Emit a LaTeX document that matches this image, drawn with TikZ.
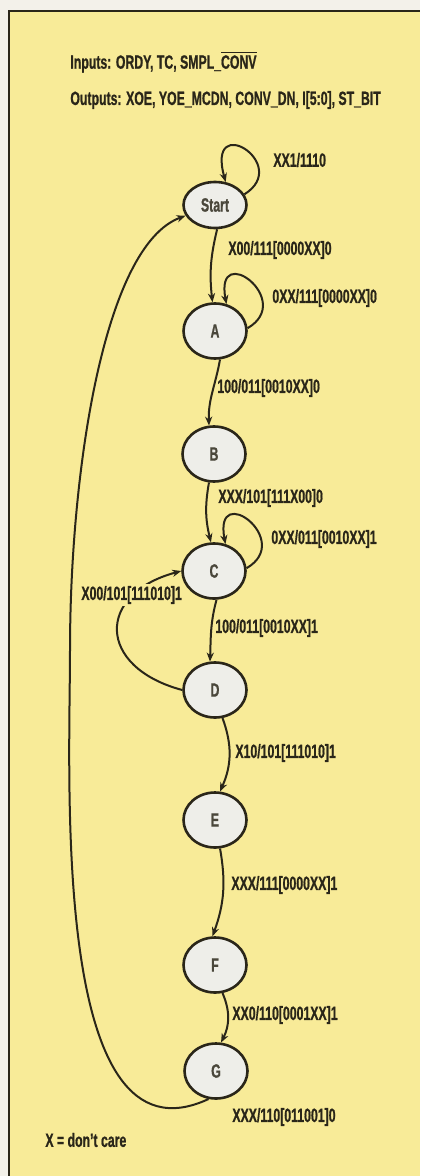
\documentclass[tikz,border=0pt]{standalone}
\usepackage{fontspec}
\setmainfont{Liberation Sans}[FakeStretch=0.64, BoldFeatures={FakeBold=0.8}]
\usetikzlibrary{arrows.meta,shapes.geometric}
\definecolor{paper}{HTML}{F3F1EA}
\definecolor{panel}{HTML}{F8EB98}
\definecolor{ink}{HTML}{2A2619}
\definecolor{bubble}{HTML}{EEEEE9}

\begin{document}
\begin{tikzpicture}[
  x=0.5pt, y=0.5pt,
  >={Stealth[length=4.5pt,width=3.6pt]},
  state/.style={ellipse, draw=ink, line width=1.3pt, fill=bubble, minimum width=31.5pt, minimum height=27.5pt, inner sep=0pt, font=\fontsize{9.6}{11}\selectfont\bfseries, text=ink!85},
  lbl/.style={anchor=west, inner sep=0pt, font=\fontsize{9.6}{11}\selectfont\bfseries, text=ink},
  trans/.style={draw=ink, ->, line width=1pt}
]
\path[use as bounding box, fill=paper] (0,0) rectangle (420,-1176);
\fill[panel] (9,-11) rectangle (420,-1176);
\draw[ink, line width=1.2pt] (9,-1176) -- (9,-11) -- (420,-11);

\node[lbl] (inputs) at (70,-62) {Inputs: ORDY, TC, SMPL\_$\overline{\hbox{CONV}}$};
\node[lbl] (outputs) at (70,-100) {Outputs: XOE, YOE\_MCDN, CONV\_DN, I[5:0], ST\_BIT};

\node[state, minimum height=23pt] (start) at (215,-205) {Start};
\node[state] (a) at (215,-331) {A};
\node[state] (b) at (214,-454) {B};
\node[state] (c) at (214,-571) {C};
\node[state] (d) at (215,-690) {D};
\node[state] (e) at (215,-820) {E};
\node[state] (f) at (215,-965) {F};
\node[state] (g) at (216,-1071) {G};

\draw[trans] (start.20) .. controls +(48,30) and +(-20,72) .. (start.65);
\draw[trans] (start.-85) to[bend right=10] (a.95);
\draw[trans] (a.5) .. controls +(48,28) and +(-12,64) .. (a.67);
\draw[trans] (a.-80) to[out=-100,in=92] (b.100);
\draw[trans] (b.-100) to[bend right=12] (c.96);
\draw[trans] (c.5) .. controls +(48,28) and +(-12,64) .. (c.67);
\draw[trans] (c.-85) to[out=-105,in=88] (d.100);
\draw[trans] (d.180) to[out=165,in=195,looseness=1.9] (c.180);
\draw[trans] (d.-75) to[bend left=22] (e.80);
\draw[trans] (e.-80) to[bend left=15] (f.95);
\draw[trans] (f.-75) to[bend left=25] (g.80);
\draw[trans] (g.-105) to[out=-155,in=-90,out looseness=0.95,in looseness=0.7] (70,-650)
  to[out=90,in=200,out looseness=1,in looseness=0.5] (start.200);

\node[lbl] (l1) at (273,-160) {XX1/1110};
\node[lbl] (l2) at (228,-250) {X00/111[0000XX]0};
\node[lbl] (l3) at (272,-298) {0XX/111[0000XX]0};
\node[lbl] (l4) at (217,-388) {100/011[0010XX]0};
\node[lbl] (l5) at (218,-498) {XXX/101[111X00]0};
\node[lbl] (l6) at (271,-539) {0XX/011[0010XX]1};
\node[lbl, fill=panel, inner ysep=1pt] (l7) at (81,-595) {X00/101[111010]1};
\node[lbl] (l8) at (215,-628) {100/011[0010XX]1};
\node[lbl] (l9) at (235,-753) {X10/101[111010]1};
\node[lbl] (l10) at (231,-885) {XXX/111[0000XX]1};
\node[lbl] (l11) at (232,-1015) {XX0/110[0001XX]1};
\node[lbl] (l12) at (232,-1117) {XXX/110[011001]0};
\node[lbl] (note) at (45,-1140) {X = don't care};
\end{tikzpicture}
\end{document}
